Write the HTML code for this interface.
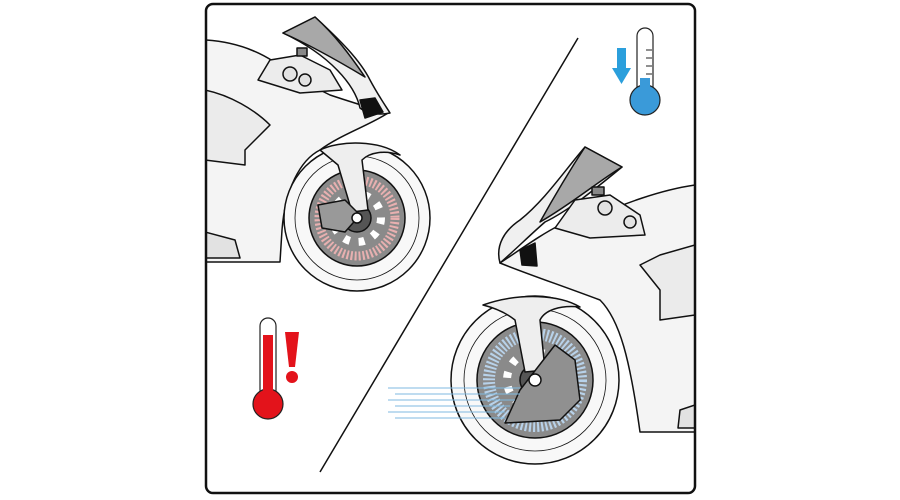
<!DOCTYPE html>
<html><head><meta charset="utf-8"><style>
html,body{margin:0;padding:0;background:#fff;width:900px;height:500px;overflow:hidden}
svg{display:block}
</style></head><body>
<svg width="900" height="500" viewBox="0 0 900 500" xmlns="http://www.w3.org/2000/svg">
<defs>
<clipPath id="fr"><rect x="206" y="4" width="489" height="489" rx="7"/></clipPath>
</defs>
<g clip-path="url(#fr)" stroke="#111" stroke-width="1.5" stroke-linejoin="round">
<!-- LEFT BIKE -->
<path d="M205,40 C240,42 270,55 290,75 L330,95 C345,100 360,105 388,113 C370,125 340,135 320,150 C300,160 285,190 282,230 L280,262 L205,262 Z" fill="#f4f4f4"/>
<path d="M205,90 C230,95 255,110 270,125 L245,150 L245,165 L205,160 Z" fill="#ebebeb"/>
<path d="M205,232 L235,240 L240,258 L205,258 Z" fill="#e2e2e2"/>
<path d="M283,33 L315,17 C340,40 360,60 370,80 C378,95 385,105 390,113 C375,116 365,112 360,108 C355,85 330,55 283,33 Z" fill="#f0f0f0"/>
<path d="M283,33 L315,17 C335,35 350,55 365,77 C340,62 310,45 283,33 Z" fill="#a8a8a8"/>
<path d="M258,80 L270,60 L300,55 L330,70 L342,90 L300,93 Z" fill="#ececec"/>
<circle cx="290" cy="74" r="7" fill="#e2e2e2"/><circle cx="305" cy="80" r="6" fill="#e2e2e2"/>
<rect x="297" y="48" width="10" height="8" fill="#888"/>
<path d="M360,100 L375,98 L383,112 L365,118 Z" fill="#111"/>
<!-- left wheel -->
<circle cx="357" cy="218" r="73" fill="#f8f8f8"/>
<circle cx="357" cy="218" r="62" fill="none" stroke-width="0.8"/>
<circle cx="357" cy="218" r="48" fill="#8a8a8a"/>
<circle cx="357" cy="218" r="38" fill="none" stroke="#e8b0b0" stroke-width="9" stroke-dasharray="2 2"/>
<circle cx="357" cy="218" r="24" fill="none" stroke="#fff" stroke-width="8" stroke-dasharray="6 9"/>
<circle cx="357" cy="218" r="14" fill="#555"/>
<path d="M320,150 C340,140 380,140 400,155 C385,150 370,152 362,160 L368,210 L352,212 L338,165 Z" fill="#eee"/>
<path d="M318,205 L345,200 L360,215 L345,232 L322,228 Z" fill="#999"/>
<circle cx="357" cy="218" r="5" fill="#fff"/>
<!-- RIGHT BIKE -->
<path d="M695,185 C660,190 620,205 600,215 L560,225 C540,235 520,250 500,263 C530,275 560,285 600,300 C620,320 630,360 640,432 L695,432 Z" fill="#f4f4f4"/>
<path d="M695,245 L660,255 L640,265 L660,290 L660,320 L695,315 Z" fill="#ebebeb"/>
<path d="M695,405 L680,410 L678,428 L695,428 Z" fill="#e2e2e2"/>
<path d="M585,147 L622,167 C600,185 570,210 545,222 C530,235 515,250 500,263 C495,245 505,230 520,220 C545,200 565,170 585,147 Z" fill="#f0f0f0"/>
<path d="M585,147 L622,167 C600,180 570,205 540,222 C555,195 570,170 585,147 Z" fill="#a8a8a8"/>
<path d="M555,228 L575,200 L610,195 L640,215 L645,235 L590,238 Z" fill="#ececec"/>
<circle cx="605" cy="208" r="7" fill="#e2e2e2"/><circle cx="630" cy="222" r="6" fill="#e2e2e2"/>
<rect x="592" y="187" width="12" height="8" fill="#888"/>
<path d="M520,250 L535,243 L537,266 L522,265 Z" fill="#111"/>
<!-- right wheel -->
<circle cx="535" cy="380" r="84" fill="#f8f8f8"/>
<circle cx="535" cy="380" r="71" fill="none" stroke-width="0.8"/>
<circle cx="535" cy="380" r="58" fill="#8a8a8a"/>
<circle cx="535" cy="380" r="46" fill="none" stroke="#b8d2ea" stroke-width="12" stroke-dasharray="2 2"/>
<circle cx="535" cy="380" r="28" fill="none" stroke="#fff" stroke-width="8" stroke-dasharray="6 9"/>
<circle cx="535" cy="380" r="15" fill="#555"/>
<path d="M483,305 C520,292 560,295 580,307 C560,305 545,310 540,320 L545,370 L525,372 L515,320 C505,312 495,308 483,305 Z" fill="#eee"/>
<path d="M505,423 L520,390 L555,345 L575,360 L580,400 L560,420 Z" fill="#909090"/>
<circle cx="535" cy="380" r="6" fill="#fff"/>
</g>
<!-- blue speed lines -->
<g stroke="#7fb9e0" stroke-width="1">
<line x1="388" y1="388" x2="520" y2="388"/><line x1="395" y1="394" x2="520" y2="394"/>
<line x1="388" y1="400" x2="515" y2="400"/><line x1="395" y1="406" x2="510" y2="406"/>
<line x1="388" y1="412" x2="505" y2="412"/><line x1="395" y1="418" x2="505" y2="418"/>
</g>
<!-- diagonal -->
<line x1="578" y1="38" x2="320" y2="472" stroke="#111" stroke-width="1.5"/>
<!-- frame -->
<rect x="206" y="4" width="489" height="489" rx="7" fill="none" stroke="#111" stroke-width="2.5"/>
<!-- red thermometer -->
<g stroke="#222" stroke-width="1.2">
<rect x="260" y="318" width="16" height="80" rx="8" fill="#fff"/>
<circle cx="268" cy="404" r="15" fill="#e3131b"/>
<rect x="263" y="335" width="10" height="70" fill="#e3131b" stroke="none"/>
</g>
<path d="M285,332 L299,332 L295,367 L289,367 Z" fill="#e3131b"/>
<circle cx="292" cy="377" r="6" fill="#e3131b"/>
<!-- blue thermometer -->
<g stroke="#222" stroke-width="1.2">
<rect x="637" y="28" width="16" height="68" rx="8" fill="#fff"/>
<circle cx="645" cy="100" r="15" fill="#3a9ad9"/>
<rect x="640" y="78" width="10" height="22" fill="#3a9ad9" stroke="none"/>
</g>
<g stroke="#222" stroke-width="1"><line x1="646" y1="50" x2="652" y2="50"/><line x1="646" y1="58" x2="652" y2="58"/><line x1="646" y1="66" x2="652" y2="66"/><line x1="646" y1="74" x2="652" y2="74"/></g>
<rect x="617" y="48" width="9" height="22" fill="#2b9fdc"/>
<path d="M612,68 L631,68 L621.5,84 Z" fill="#2b9fdc"/>
</svg>
</body></html>
